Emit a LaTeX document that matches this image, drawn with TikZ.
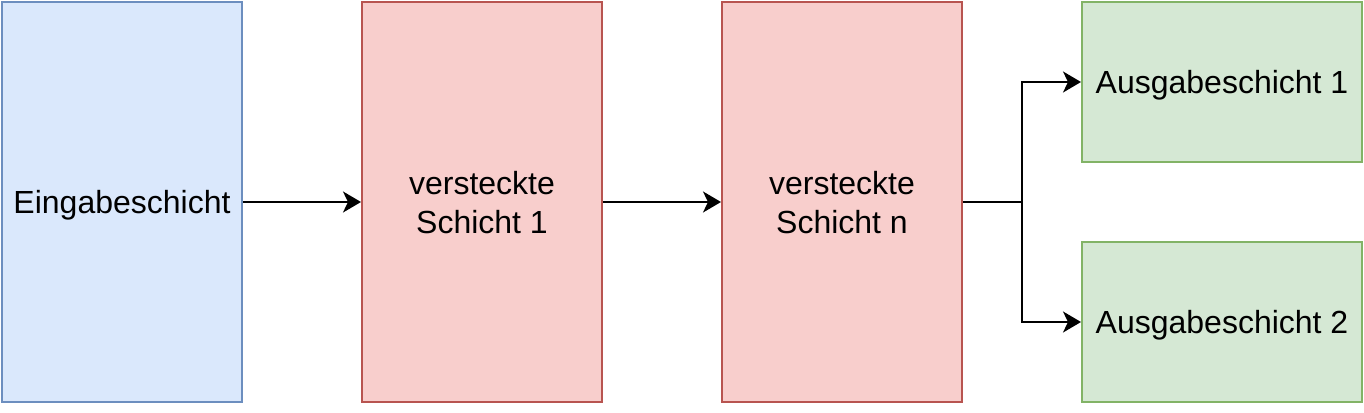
\documentclass[tikz,border=0pt]{standalone}
\usepackage{fontspec}
\setmainfont{Liberation Sans}
\usetikzlibrary{arrows.meta}
\definecolor{bfill}{HTML}{DAE8FC}\definecolor{bline}{HTML}{6C8EBF}
\definecolor{rfill}{HTML}{F8CECC}\definecolor{rline}{HTML}{B85450}
\definecolor{gfill}{HTML}{D5E8D4}\definecolor{gline}{HTML}{82B366}
\begin{document}
\begin{tikzpicture}[x=1pt,y=-1pt,
  box/.style={draw, line width=2pt, minimum width=240pt, minimum height=400pt, inner sep=0pt, align=center,
    text depth=0pt, font=\fontsize{32}{39}\selectfont},
  inbox/.style={box, fill=bfill, draw=bline},
  hidbox/.style={box, fill=rfill, draw=rline},
  outbox/.style={box, fill=gfill, draw=gline, minimum width=280pt, minimum height=160pt},
  conn/.style={line width=2pt, -{Stealth[length=18pt,width=21pt,inset=5pt]}}]
\useasboundingbox (0,0) rectangle (1364,412);
\node[inbox] (in) at (122,202) {Eingabeschicht};
\node[hidbox] (h1) at (482,202) {versteckte\\Schicht 1};
\node[hidbox] (hn) at (842,202) {versteckte\\Schicht n};
\node[outbox] (o1) at (1222,82) {Ausgabeschicht 1};
\node[outbox] (o2) at (1222,322) {Ausgabeschicht 2};
\coordinate (split) at (1022,202);
\draw[conn] (in) -- (h1);
\draw[conn] (h1) -- (hn);
\draw[conn] (hn.east) -- (split) |- (o1.west);
\draw[conn] (split) |- (o2.west);
\end{tikzpicture}
\end{document}
